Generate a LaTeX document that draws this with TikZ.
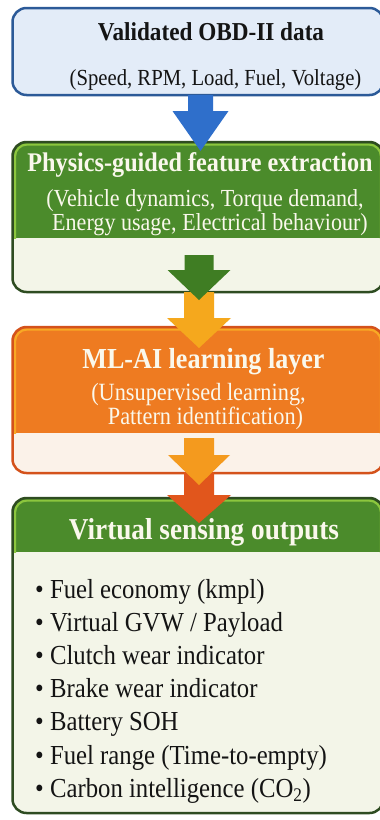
\documentclass[tikz,border=0pt]{standalone}
\usepackage{fontspec}
\setmainfont{Liberation Serif}[FakeStretch=0.9]
\definecolor{blueborder}{HTML}{2C5A98}
\definecolor{bluefill}{HTML}{E3ECF8}
\definecolor{greenhdr}{HTML}{4B8B2B}
\definecolor{greenborder}{HTML}{2E4C21}
\definecolor{greenlight}{HTML}{8CC63E}
\definecolor{greenlower}{HTML}{F3F5E8}
\definecolor{orangehdr}{HTML}{EE7B21}
\definecolor{orangeborder}{HTML}{D4521B}
\definecolor{orangelight}{HTML}{F8A925}
\definecolor{orangelower}{HTML}{FBF2E9}
\definecolor{arrblue}{HTML}{2F6FCB}
\definecolor{arrgreen}{HTML}{3F7D23}
\definecolor{arryellow}{HTML}{F5A81D}
\definecolor{arrorange}{HTML}{F49A1E}
\definecolor{arrred}{HTML}{E1561C}
\definecolor{txtdark}{HTML}{141414}
\definecolor{txtwhite}{HTML}{FAF8EC}
\newcommand\blockarr[7]{% color, cx, ytop, yhead, ytip, shaft half, head half
  \fill[#1] (#2-#6,#3) -- (#2+#6,#3) -- (#2+#6,#4) -- (#2+#7,#4) -- (#2,#5)
    -- (#2-#7,#4) -- (#2-#6,#4) -- cycle;}
\tikzset{
  boxshape/.style={rounded corners=14pt, minimum width=371pt, anchor=north west, inner sep=0pt, outer sep=0pt},
  ttl/.style={anchor=base, inner sep=0pt, font=\bfseries\fontsize{#1}{#1}\selectfont},
  sub/.style={anchor=base, inner sep=0pt, font=\fontsize{#1}{#1}\selectfont},
  bul/.style={anchor=base west, inner sep=0pt, text=txtdark, font=\fontsize{27.5}{27.5}\selectfont},
}
\begin{document}
\begin{tikzpicture}[x=1pt,y=-1pt]
\useasboundingbox (0,0) rectangle (380,820);
\fill[white] (0,0) rectangle (380,820);

% Box 1
\node[boxshape, minimum height=87pt, fill=bluefill, draw=blueborder, line width=2.5pt] (obd) at (12.5,8) {};

% Box 2
\node[boxshape, minimum height=150pt, fill=greenlower] (feat) at (12.5,142) {};
\begin{scope}
  \clip[rounded corners=14pt] (feat.north west) rectangle (feat.south east);
  \fill[greenhdr] (12.5,142) rectangle (384,238);
  \begin{scope}
    \clip (12.5,142) rectangle (384,238);
    \draw[greenlight, line width=2.2pt, rounded corners=12pt] (15,144.5) rectangle (381,255);
  \end{scope}
\end{scope}
\draw[greenborder, line width=2.5pt, rounded corners=14pt] (feat.north west) rectangle (feat.south east);

% Box 3
\node[boxshape, minimum height=146pt, fill=orangelower] (ml) at (12.5,327) {};
\begin{scope}
  \clip[rounded corners=14pt] (ml.north west) rectangle (ml.south east);
  \fill[orangehdr] (12.5,327) rectangle (384,433);
  \begin{scope}
    \clip (12.5,327) rectangle (384,433);
    \draw[orangelight, line width=2.2pt, rounded corners=12pt] (15,329.5) rectangle (381,450);
  \end{scope}
\end{scope}
\draw[orangeborder, line width=2.5pt, rounded corners=14pt] (ml.north west) rectangle (ml.south east);

% Box 4
\node[boxshape, minimum height=315pt, fill=greenlower] (vso) at (12.5,498) {};
\begin{scope}
  \clip[rounded corners=14pt] (vso.north west) rectangle (vso.south east);
  \fill[greenhdr] (12.5,498) rectangle (384,552);
  \begin{scope}
    \clip (12.5,498) rectangle (384,552);
    \draw[greenlight, line width=2.2pt, rounded corners=12pt] (15,500.5) rectangle (381,570);
  \end{scope}
\end{scope}
\draw[greenborder, line width=2.5pt, rounded corners=14pt] (vso.north west) rectangle (vso.south east);

% Arrows (order gives overlaps)
\blockarr{arryellow}{199}{292}{318}{348}{15}{32}
\blockarr{arrred}{199}{472}{495}{523}{15}{32}
\blockarr{arrblue}{200.5}{95}{111}{151}{12.5}{28}
\blockarr{arrgreen}{199}{255}{270}{300}{14.5}{31.5}
\blockarr{arrorange}{199}{438}{455}{485}{15}{31}

% Texts box 1
\node[ttl=25.8, text=txtdark] (t1) at (211,40) {Validated OBD-II data};
\node[sub=23, text=txtdark] (s1) at (215.5,85) {(Speed, RPM, Load, Fuel, Voltage)};

% Texts box 2
\node[ttl=26.9, text=txtwhite] (t2) at (200,171.5) {Physics-guided feature extraction};
\node[sub=24.5, text=txtwhite] (s2a) at (205,206.5) {(Vehicle dynamics, Torque demand,};
\node[sub=24.5, text=txtwhite] (s2b) at (210,230.5) {Energy usage, Electrical behaviour)};

% Texts box 3
\node[ttl=29, text=txtwhite] (t3) at (203.5,368) {ML-AI learning layer};
\node[sub=24.8, text=txtwhite] (s3a) at (198.5,400.5) {(Unsupervised learning,};
\node[sub=24.8, text=txtwhite] (s3b) at (205.5,424) {Pattern identification)};

% Texts box 4
\node[ttl=30.3, text=txtwhite] (t4) at (204,539) {Virtual sensing outputs};
\node[bul] (b1) at (35,598) {• Fuel economy (kmpl)};
\node[bul] (b2) at (35,631.2) {• Virtual GVW / Payload};
\node[bul] (b3) at (35,664.4) {• Clutch wear indicator};
\node[bul] (b4) at (35,697.6) {• Brake wear indicator};
\node[bul] (b5) at (35,730.8) {• Battery SOH};
\node[bul] (b6) at (35,764) {• Fuel range (Time-to-empty)};
\node[bul] (b7) at (35,797) {• Carbon intelligence (CO\textsubscript{2})};
\end{tikzpicture}
\end{document}
